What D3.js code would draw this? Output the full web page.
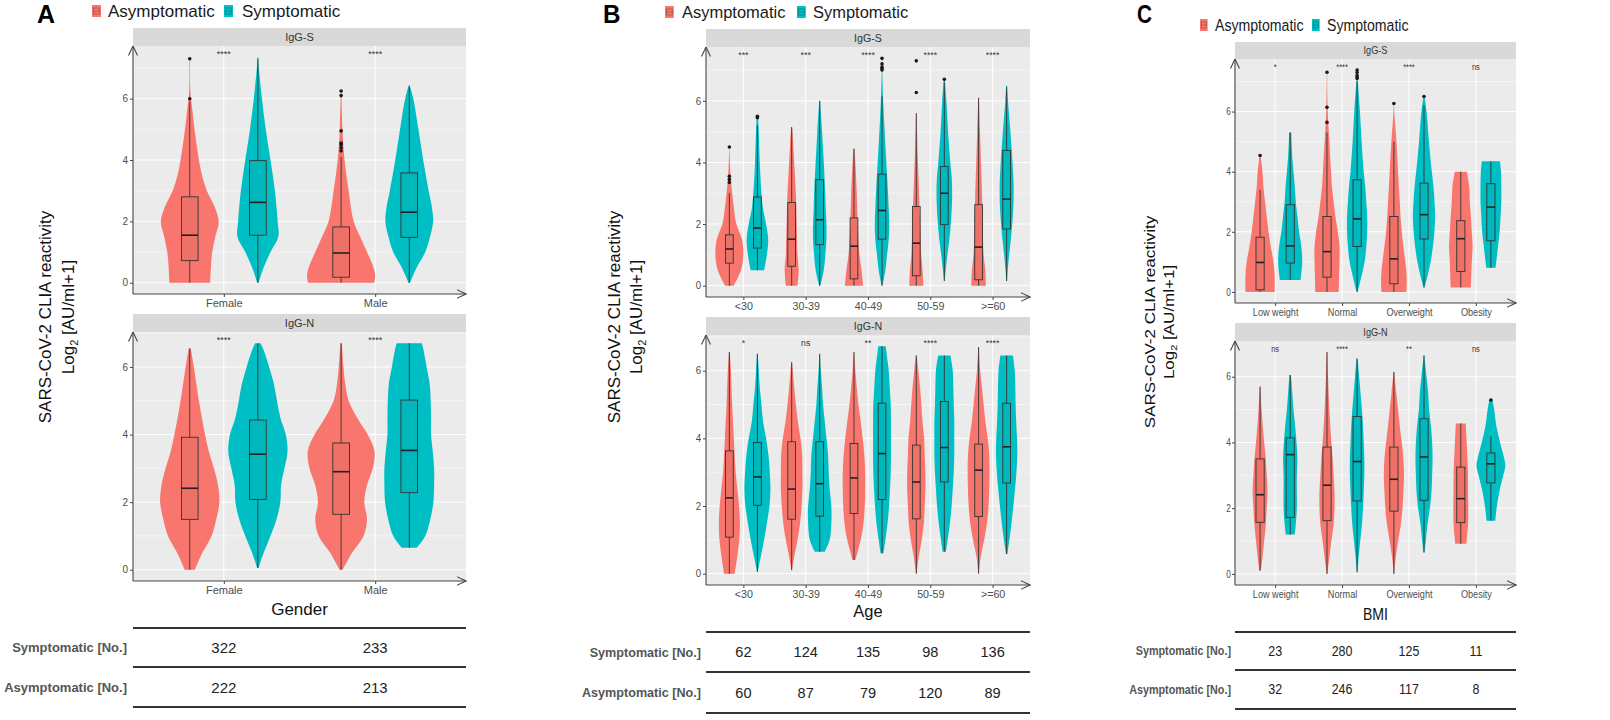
<!DOCTYPE html>
<html>
<head>
<meta charset="utf-8">
<script src="https://cdn.jsdelivr.net/npm/d3@7"></script>
<style>
  body { margin: 0; background: #fff; }
  svg { font-family: "Liberation Sans", Arial, sans-serif; }
</style>
</head>
<body>
<svg id="chart" width="1610" height="720"></svg>
<script>
// Groups and colours
const groups = ['Asymptomatic', 'Symptomatic'];
const groupColors = ['#F8766D', '#00BFC4'];
const facetLabels = ['IgG-S', 'IgG-N'];
const yTicks = [0, 2, 4, 6];
const yMinor = [1, 3, 5, 7];

// Violin row: category, group, whisker low, q1, median, q3, whisker high, outliers, density [value, rel. width]
const vr = (c, g, lo, q1, med, q3, hi, out, dens) => ({ c, g, lo, q1, med, q3, hi, out, dens });

// Gender
const genderCats = ['Female', 'Male'];
const genderSymN = [322, 233];
const genderAsymN = [222, 213];
const genderSigS = ['****', '****'];
const genderSigN = ['****', '****'];
const genderIgGS = [
  vr(0, 0, 0, 0.72, 1.55, 2.8, 5.9, [6.0, 7.3], [[0, .6], [0.5, .62], [1, .66], [1.5, .75], [2, .85], [2.5, .72], [3, .5], [3.5, .36], [4, .27], [5, .14], [5.6, .08], [6.2, .02], [7.3, .01]]),
  vr(0, 1, 0, 1.55, 2.62, 3.98, 7.3, [], [[0, .02], [0.5, .17], [1, .37], [1.5, .6], [2, .58], [3, .5], [4, .37], [5, .23], [6, .12], [7, .03], [7.35, .01]]),
  vr(1, 0, 0, 0.18, 0.97, 1.82, 4.1, [4.3, 4.4, 4.5, 4.55, 4.95, 6.1, 6.25], [[0, .97], [0.25, 1], [0.5, .95], [1, .76], [1.5, .56], [2, .37], [3, .22], [4, .1], [5, .04], [6.25, .01]]),
  vr(1, 1, 0, 1.48, 2.3, 3.58, 6.4, [], [[0, .02], [0.5, .22], [1, .47], [1.5, .61], [2, .7], [2.5, .66], [3, .57], [4, .41], [5, .27], [6, .12], [6.45, .01]])
];
const genderIgGN = [
  vr(0, 0, 0, 1.49, 2.41, 3.92, 6.55, [], [[0, .15], [0.5, .37], [1, .64], [1.5, .78], [2, .87], [2.5, .83], [3, .71], [3.5, .56], [4, .45], [5, .27], [6, .12], [6.55, .03]]),
  vr(0, 1, 0.05, 2.08, 3.42, 4.43, 6.7, [], [[0.05, .02], [0.5, .17], [1, .37], [1.5, .55], [2, .66], [2.5, .68], [3, .78], [3.5, .87], [4, .82], [4.5, .66], [5, .56], [5.5, .47], [6, .33], [6.5, .17], [6.7, .08]]),
  vr(1, 0, 0, 1.64, 2.9, 3.75, 6.7, [], [[0, .05], [0.5, .32], [1, .66], [1.5, .76], [2, .68], [2.5, .76], [3, .93], [3.5, .98], [4, .78], [4.5, .47], [5, .22], [5.5, .12], [6, .07], [6.7, .02]]),
  vr(1, 1, 0.65, 2.28, 3.53, 5.02, 6.7, [], [[0.65, .22], [1, .47], [1.5, .62], [2, .71], [2.5, .73], [3, .73], [3.5, .69], [4, .64], [4.5, .64], [5, .63], [5.5, .6], [6, .51], [6.5, .42], [6.7, .37]])
];

// Age
const ageCats = ['<30', '30-39', '40-49', '50-59', '>=60'];
const ageSymN = [62, 124, 135, 98, 136];
const ageAsymN = [60, 87, 79, 120, 89];
const ageSigS = ['***', '***', '****', '****', '****'];
const ageSigN = ['*', 'ns', '**', '****', '****'];
const ageIgGS = [
  vr(0, 0, 0, 0.73, 1.19, 1.65, 3.0, [3.35, 3.45, 3.55, 4.5], [[0, .3], [0.5, .83], [1, 1], [1.5, .9], [2, .5], [2.5, .33], [3, .2], [3.5, .1], [4, .04], [4.5, .01]]),
  vr(0, 1, 0.5, 1.22, 1.87, 2.88, 5.2, [5.45, 5.5], [[0.5, .48], [1, .68], [1.5, .77], [2, .62], [2.5, .4], [3, .29], [4, .17], [5, .1], [5.5, .05]]),
  vr(1, 0, 0, 0.63, 1.51, 2.7, 5.15, [], [[0, .42], [0.5, .5], [1, .42], [2, .36], [3, .3], [4, .18], [5, .06], [5.15, .02]]),
  vr(1, 1, 0, 1.33, 2.14, 3.44, 6.0, [], [[0, .04], [0.5, .29], [1, .4], [1.5, .48], [2, .48], [2.5, .43], [3, .4], [4, .29], [5, .17], [6, .03]]),
  vr(2, 0, 0, 0.22, 1.28, 2.2, 4.45, [], [[0, .65], [0.5, .54], [1, .39], [2, .27], [3, .2], [4, .1], [4.45, .03]]),
  vr(2, 1, 0, 1.51, 2.44, 3.62, 6.15, [7.0, 7.05, 7.1, 7.2, 7.38], [[0, .03], [0.5, .24], [1, .36], [1.5, .48], [2, .52], [2.5, .48], [3, .43], [4, .31], [5, .19], [6, .08], [7, .02], [7.38, .01]]),
  vr(3, 0, 0, 0.32, 1.38, 2.57, 5.6, [6.27, 7.3], [[0, .5], [0.5, .45], [1, .35], [2, .28], [3, .2], [4, .12], [5, .05], [5.6, .02]]),
  vr(3, 1, 0.15, 1.98, 3.0, 3.87, 6.6, [6.7], [[0.15, .02], [0.5, .1], [1, .22], [1.5, .36], [2, .46], [2.5, .53], [3, .56], [3.5, .53], [4, .43], [5, .27], [6, .15], [6.7, .04]]),
  vr(4, 0, 0, 0.19, 1.25, 2.63, 6.1, [], [[0, .52], [0.5, .48], [1, .36], [2, .29], [3, .24], [4, .17], [5, .1], [6.1, .02]]),
  vr(4, 1, 0.15, 1.84, 2.81, 4.39, 6.45, [], [[0.15, .03], [0.5, .08], [1, .18], [1.5, .3], [2, .4], [2.5, .47], [3, .5], [3.5, .48], [4, .42], [4.5, .35], [5, .27], [5.5, .18], [6, .1], [6.5, .03]])
];
const ageIgGN = [
  vr(0, 0, 0, 1.08, 2.24, 3.63, 6.55, [], [[0, .38], [0.5, .56], [1, .71], [1.5, .75], [2, .69], [2.5, .57], [3, .45], [3.5, .38], [4, .32], [5, .2], [6, .11], [6.55, .03]]),
  vr(0, 1, 0.05, 2.02, 2.86, 3.88, 6.5, [], [[0.05, .02], [0.5, .24], [1, .48], [1.5, .68], [2, .86], [2.5, .93], [3, .88], [3.5, .79], [4, .62], [4.5, .4], [5, .29], [5.5, .17], [6, .1], [6.5, .03]]),
  vr(1, 0, 0.1, 1.61, 2.5, 3.9, 6.25, [], [[0.1, .02], [0.5, .18], [1, .42], [1.5, .6], [2, .71], [2.5, .77], [3, .77], [3.5, .75], [4, .63], [4.5, .44], [5, .3], [5.5, .18], [6, .08], [6.25, .03]]),
  vr(1, 1, 0.65, 1.7, 2.66, 3.9, 6.5, [], [[0.65, .36], [1, .71], [1.5, .83], [2, .83], [2.5, .71], [3, .64], [3.5, .6], [4, .48], [4.5, .36], [5, .24], [5.5, .17], [6, .08], [6.5, .02]]),
  vr(2, 0, 0.4, 1.78, 2.83, 3.85, 6.55, [], [[0.4, .1], [1, .48], [1.5, .68], [2, .77], [2.5, .8], [3, .8], [3.5, .74], [4, .62], [4.5, .48], [5, .32], [5.5, .2], [6, .1], [6.55, .02]]),
  vr(2, 1, 0.6, 2.19, 3.55, 5.04, 6.72, [], [[0.6, .1], [1, .24], [1.5, .4], [2, .5], [2.5, .57], [3, .62], [3.5, .64], [4, .64], [4.5, .64], [5, .62], [5.5, .55], [6, .48], [6.5, .33], [6.72, .27]]),
  vr(3, 0, 0, 1.62, 2.71, 3.8, 6.45, [], [[0, .02], [0.5, .18], [1, .39], [1.5, .54], [2, .6], [2.5, .65], [3, .65], [3.5, .6], [4, .56], [4.5, .44], [5, .36], [5.5, .27], [6, .15], [6.45, .03]]),
  vr(3, 1, 0.65, 2.71, 3.73, 5.09, 6.45, [], [[0.65, .12], [1, .24], [1.5, .4], [2, .52], [2.5, .6], [3, .67], [3.5, .71], [4, .71], [4.5, .71], [5, .67], [5.5, .64], [6, .6], [6.45, .44]]),
  vr(4, 0, 0, 1.69, 3.06, 3.83, 6.7, [], [[0, .02], [0.5, .15], [1, .4], [1.5, .6], [2, .71], [2.5, .76], [3, .78], [3.5, .76], [4, .65], [4.5, .48], [5, .36], [5.5, .24], [6, .12], [6.7, .02]]),
  vr(4, 1, 0.58, 2.68, 3.75, 5.04, 6.45, [], [[0.58, .05], [1, .2], [1.5, .35], [2, .48], [2.5, .6], [3, .7], [3.5, .76], [4, .74], [4.5, .68], [5, .64], [5.5, .62], [6, .58], [6.45, .45]])
];

// BMI
const bmiCats = ['Low weight', 'Normal', 'Overweight', 'Obesity'];
const bmiSymN = [23, 280, 125, 11];
const bmiAsymN = [32, 246, 117, 8];
const bmiSigS = ['*', '****', '****', 'ns'];
const bmiSigN = ['ns', '****', '**', 'ns'];
const bmiIgGS = [
  vr(0, 0, 0, 0.07, 0.98, 1.82, 3.4, [4.54], [[0, .97], [0.5, .97], [1, .89], [1.5, .71], [2, .56], [2.5, .44], [3, .33], [3.5, .22], [4, .16], [4.54, .03]]),
  vr(0, 1, 0.4, 0.96, 1.53, 2.9, 5.3, [], [[0.4, .69], [1, .8], [1.5, .74], [2, .59], [2.5, .48], [3, .37], [3.5, .31], [4, .22], [4.5, .14], [5, .09], [5.3, .07]]),
  vr(1, 0, 0, 0.49, 1.34, 2.51, 5.3, [5.64, 6.14, 7.31], [[0, .78], [0.5, .8], [1, .83], [1.5, .83], [2, .72], [2.5, .56], [3, .44], [3.5, .33], [4, .27], [5, .16], [6, .05], [7.31, .01]]),
  vr(1, 1, 0, 1.51, 2.43, 3.73, 7.0, [7.1, 7.15, 7.2, 7.3, 7.38], [[0, .03], [0.5, .28], [1, .5], [1.5, .61], [2, .67], [2.5, .67], [3, .61], [3.5, .54], [4, .44], [5, .3], [6, .19], [7, .05], [7.38, .01]]),
  vr(2, 0, 0, 0.27, 1.1, 2.51, 5.0, [6.27], [[0, .83], [0.5, .85], [1, .76], [1.5, .63], [2, .52], [2.5, .44], [3, .39], [3.5, .33], [4, .28], [5, .17], [5.8, .05], [6.27, .01]]),
  vr(2, 1, 0.15, 1.76, 2.57, 3.62, 6.2, [6.5], [[0.15, .03], [0.5, .22], [1, .44], [1.5, .59], [2, .69], [2.5, .74], [3, .7], [3.5, .63], [4, .52], [5, .33], [6, .17], [6.5, .03]]),
  vr(3, 0, 0.15, 0.68, 1.77, 2.37, 4.0, [], [[0.15, .67], [1, .73], [1.5, .78], [2, .73], [2.5, .67], [3, .6], [3.5, .56], [4, .4]]),
  vr(3, 1, 0.8, 1.7, 2.82, 3.6, 4.35, [], [[0.8, .31], [1.5, .47], [2, .58], [2.5, .64], [3, .69], [3.5, .69], [4, .67], [4.35, .6]])
];
const bmiIgGN = [
  vr(0, 0, 0.1, 1.57, 2.41, 3.5, 5.7, [], [[0.1, .05], [0.5, .16], [1, .27], [1.5, .38], [2, .44], [2.5, .5], [3, .44], [3.5, .38], [4, .27], [4.5, .18], [5, .1], [5.7, .02]]),
  vr(0, 1, 1.2, 1.72, 3.63, 4.14, 6.05, [], [[1.2, .3], [1.5, .37], [2, .44], [2.5, .44], [3, .44], [3.5, .48], [4, .42], [4.5, .33], [5, .22], [5.5, .14], [6.05, .05]]),
  vr(1, 0, 0, 1.62, 2.7, 3.86, 6.75, [], [[0, .02], [0.5, .16], [1, .29], [1.5, .44], [2, .5], [2.5, .5], [3, .44], [3.5, .38], [4, .29], [5, .16], [6, .07], [6.75, .02]]),
  vr(1, 1, 0.05, 2.22, 3.42, 4.79, 6.55, [], [[0.05, .02], [0.5, .1], [1, .21], [1.5, .32], [2, .39], [2.5, .44], [3, .48], [3.5, .48], [4, .44], [4.5, .39], [5, .32], [5.5, .23], [6, .14], [6.55, .04]]),
  vr(2, 0, 0, 1.91, 2.88, 3.86, 6.15, [], [[0, .02], [0.5, .12], [1, .28], [1.5, .46], [2, .57], [2.5, .63], [3, .67], [3.5, .63], [4, .52], [4.5, .39], [5, .28], [5.5, .16], [6.15, .02]]),
  vr(2, 1, 0.65, 2.24, 3.56, 4.72, 6.65, [], [[0.65, .03], [1, .12], [1.5, .23], [2, .39], [2.5, .5], [3, .54], [3.5, .57], [4, .54], [4.5, .46], [5, .34], [5.5, .28], [6, .17], [6.65, .02]]),
  vr(3, 0, 0.92, 1.56, 2.29, 3.25, 4.58, [], [[0.92, .37], [1.5, .48], [2, .5], [2.5, .48], [3, .48], [3.5, .44], [4, .39], [4.58, .33]]),
  vr(3, 1, 1.62, 2.77, 3.35, 3.68, 4.2, [5.29], [[1.62, .29], [2, .38], [2.5, .56], [3, .82], [3.3, .96], [3.5, .89], [4, .61], [4.5, .36], [5, .22], [5.3, .1]])
];

// Panel layout
const panels = [
  { letter: 'A', cats: genderCats, title: 'Gender', facets: [genderIgGS, genderIgGN], sig: [genderSigS, genderSigN],
    symN: genderSymN, asymN: genderAsymN, x0: 133, x1: 466, sx: 1, letterX: 37,
    legend: [[92, 108], [224, 242]], legendY: 17,
    strips: [[28, 46], [314, 332]], axisY: [294, 581], titleY: 615,
    table: [628, 667, 707], labelX: 127, yTitleX: [51, 74], yTitleY: 317 },
  { letter: 'B', cats: ageCats, title: 'Age', facets: [ageIgGS, ageIgGN], sig: [ageSigS, ageSigN],
    symN: ageSymN, asymN: ageAsymN, x0: 706, x1: 1030, sx: 0.97, letterX: 603,
    legend: [[665, 682], [797, 813]], legendY: 18,
    strips: [[29, 47], [317, 335]], axisY: [297, 585], titleY: 617,
    table: [632, 672, 713], labelX: 701, yTitleX: [620, 642], yTitleY: 317 },
  { letter: 'C', cats: bmiCats, title: 'BMI', facets: [bmiIgGS, bmiIgGN], sig: [bmiSigS, bmiSigN],
    symN: bmiSymN, asymN: bmiAsymN, x0: 1235, x1: 1516, sx: 0.83, letterX: 1137,
    legend: [[1200, 1215], [1312, 1327]], legendY: 31,
    strips: [[42, 59], [323, 341]], axisY: [303, 585], titleY: 620,
    table: [632, 670, 709], labelX: 1231, yTitleX: [1155, 1174], yTitleY: 322 }
];

const svg = d3.select('#chart');

// Open chevron arrow for the axes
svg.append('defs').append('marker')
  .attr('id', 'arrow')
  .attr('viewBox', '0 0 10 10')
  .attr('refX', 9.5).attr('refY', 5)
  .attr('markerWidth', 10).attr('markerHeight', 10)
  .attr('markerUnits', 'userSpaceOnUse')
  .attr('orient', 'auto')
  .append('path')
  .attr('d', 'M0,0.5 L9.5,5 L0,9.5')
  .attr('fill', 'none')
  .attr('stroke', '#444')
  .attr('stroke-width', 1.1);

// Text helper, with horizontal squeeze per panel
function txt(g, x, y, s, o = {}) {
  const t = g.append('text')
    .attr('transform', `translate(${x},${y}) scale(${o.sx ?? 1},1)` + (o.rot ? ` rotate(${o.rot})` : ''))
    .attr('text-anchor', o.anchor || 'middle')
    .attr('font-size', o.size || 10)
    .attr('fill', o.fill || '#333');
  if (o.weight) t.attr('font-weight', o.weight);
  if (o.baseline) t.attr('dominant-baseline', o.baseline);
  t.text(s);
  return t;
}

function drawPanel(P) {
  const g = svg.append('g');
  const sx = P.sx;

  const x = d3.scalePoint().domain(P.cats).range([P.x0, P.x1]).padding(0.6);
  const step = x.step();
  const dodge = d3.scalePoint().domain([0, 1]).range([-0.225 * step, 0.225 * step]);
  const halfW = d3.scaleLinear().domain([0, 1]).range([0, 0.225 * step]);
  const boxW = 0.1 * step + 1.5;

  // Panel letter and legend
  txt(g, P.letterX, 23, P.letter, { sx, anchor: 'start', size: 25, weight: 'bold', fill: '#000' });
  groups.forEach((name, i) => {
    const [kx, tx] = P.legend[i];
    const ky = P.legendY - 12;
    g.append('rect').attr('x', kx).attr('y', ky).attr('width', 8 * sx + 1).attr('height', 12)
      .attr('fill', groupColors[i]);
    g.append('rect').attr('x', kx + 1.5).attr('y', ky + 3).attr('width', 8 * sx - 2).attr('height', 6)
      .attr('fill', 'none').attr('stroke', d3.color(groupColors[i]).darker(1.2)).attr('stroke-width', 0.7);
    g.append('line').attr('x1', kx + 1.5).attr('x2', kx + 8 * sx - 0.5).attr('y1', ky + 6).attr('y2', ky + 6)
      .attr('stroke', d3.color(groupColors[i]).darker(1.2)).attr('stroke-width', 0.7);
    txt(g, tx, P.legendY, name, { sx, anchor: 'start', size: 17, fill: '#1a1a1a' });
  });

  P.facets.forEach((rows, fi) => {
    const [stripTop, top] = P.strips[fi];
    const bottom = P.axisY[fi];
    const maxV = d3.max(rows, (r) => d3.max([r.hi, r.dens[r.dens.length - 1][0], ...r.out]));
    const y = d3.scaleLinear().domain([-0.05 * maxV, maxV * 1.05]).range([bottom, top]);

    // Background and grid
    g.append('rect').attr('x', P.x0).attr('y', top).attr('width', P.x1 - P.x0).attr('height', bottom - top)
      .attr('fill', '#EBEBEB');
    yMinor.filter((t) => y(t) > top).forEach((t) => {
      g.append('line').attr('x1', P.x0).attr('x2', P.x1).attr('y1', y(t)).attr('y2', y(t))
        .attr('stroke', '#fff').attr('stroke-width', 0.5);
    });
    yTicks.forEach((t) => {
      g.append('line').attr('x1', P.x0).attr('x2', P.x1).attr('y1', y(t)).attr('y2', y(t))
        .attr('stroke', '#fff').attr('stroke-width', 1);
    });
    P.cats.forEach((c) => {
      g.append('line').attr('x1', x(c)).attr('x2', x(c)).attr('y1', top).attr('y2', bottom)
        .attr('stroke', '#fff').attr('stroke-width', 1);
    });

    // Violins
    rows.forEach((r) => {
      const cx = x(P.cats[r.c]) + dodge(r.g);
      const area = d3.area()
        .curve(d3.curveCatmullRom.alpha(0.5))
        .y((d) => y(d[0]))
        .x0((d) => cx - halfW(d[1]))
        .x1((d) => cx + halfW(d[1]));
      g.append('path').attr('d', area(r.dens)).attr('fill', groupColors[r.g]);
    });

    // Boxplots
    rows.forEach((r) => {
      const cx = x(P.cats[r.c]) + dodge(r.g);
      const stroke = '#333';
      g.append('line').attr('x1', cx).attr('x2', cx).attr('y1', y(r.lo)).attr('y2', y(r.q1))
        .attr('stroke', stroke).attr('stroke-width', 0.9);
      g.append('line').attr('x1', cx).attr('x2', cx).attr('y1', y(r.q3)).attr('y2', y(r.hi))
        .attr('stroke', stroke).attr('stroke-width', 0.9);
      g.append('rect').attr('x', cx - boxW / 2).attr('y', y(r.q3)).attr('width', boxW).attr('height', y(r.q1) - y(r.q3))
        .attr('fill', 'rgba(0,0,0,0.04)').attr('stroke', stroke).attr('stroke-width', 0.9);
      g.append('line').attr('x1', cx - boxW / 2).attr('x2', cx + boxW / 2).attr('y1', y(r.med)).attr('y2', y(r.med))
        .attr('stroke', '#222').attr('stroke-width', 1.6);
      r.out.forEach((o) => {
        g.append('circle').attr('cx', cx).attr('cy', y(o)).attr('r', 1.8).attr('fill', '#1a1a1a');
      });
    });

    // Significance labels
    P.cats.forEach((c, i) => {
      txt(g, x(c), top + 11, P.sig[fi][i], { sx, size: 9, fill: '#333' });
    });

    // Axes
    const yAxis = g.append('g').attr('transform', `translate(${P.x0},0)`)
      .call(d3.axisLeft(y).tickValues(yTicks).tickSize(3).tickPadding(2));
    yAxis.select('.domain').remove();
    yAxis.selectAll('line').attr('stroke', '#444');
    yAxis.selectAll('text').attr('font-size', 10).attr('fill', '#4D4D4D')
      .attr('font-family', null).attr('transform', `scale(${sx},1)`);

    const xAxis = g.append('g').attr('transform', `translate(0,${bottom})`)
      .call(d3.axisBottom(x).tickSize(3).tickPadding(2));
    xAxis.select('.domain').remove();
    xAxis.selectAll('line').attr('stroke', '#444');
    xAxis.selectAll('text').attr('font-size', 11).attr('fill', '#4D4D4D')
      .attr('font-family', null).attr('transform', `scale(${sx},1)`);

    g.append('path').attr('d', `M${P.x0},${bottom}V${top}`)
      .attr('stroke', '#444').attr('stroke-width', 1.1).attr('fill', 'none').attr('marker-end', 'url(#arrow)');
    g.append('path').attr('d', `M${P.x0},${bottom}H${P.x1}`)
      .attr('stroke', '#444').attr('stroke-width', 1.1).attr('fill', 'none').attr('marker-end', 'url(#arrow)');

    // Strip
    g.append('rect').attr('x', P.x0).attr('y', stripTop).attr('width', P.x1 - P.x0).attr('height', top - stripTop)
      .attr('fill', '#D9D9D9');
    txt(g, (P.x0 + P.x1) / 2, (stripTop + top) / 2, facetLabels[fi], { sx, size: 11, fill: '#333', baseline: 'central' });
  });

  // Axis titles
  txt(g, (P.x0 + P.x1) / 2, P.titleY, P.title, { sx, size: 17, fill: '#111' });
  txt(g, P.yTitleX[0], P.yTitleY, 'SARS-CoV-2 CLIA reactivity', { sx, rot: -90, size: 17, fill: '#111' });
  const logTitle = txt(g, P.yTitleX[1], P.yTitleY, '', { sx, rot: -90, size: 17, fill: '#111' });
  logTitle.append('tspan').text('Log');
  logTitle.append('tspan').text('2').attr('font-size', 11).attr('dy', 4);
  logTitle.append('tspan').text(' [AU/ml+1]').attr('dy', -4);

  // Count table
  P.table.forEach((ty) => {
    g.append('line').attr('x1', P.x0).attr('x2', P.x1).attr('y1', ty).attr('y2', ty)
      .attr('stroke', '#333').attr('stroke-width', 2);
  });
  const rowY = [(P.table[0] + P.table[1]) / 2, (P.table[1] + P.table[2]) / 2];
  txt(g, P.labelX, rowY[0], 'Symptomatic [No.]', { sx, anchor: 'end', size: 13, weight: 'bold', fill: '#555', baseline: 'central' });
  txt(g, P.labelX, rowY[1], 'Asymptomatic [No.]', { sx, anchor: 'end', size: 13, weight: 'bold', fill: '#555', baseline: 'central' });
  P.cats.forEach((c, i) => {
    txt(g, x(c), rowY[0], P.symN[i], { sx, size: 15, fill: '#222', baseline: 'central' });
    txt(g, x(c), rowY[1], P.asymN[i], { sx, size: 15, fill: '#222', baseline: 'central' });
  });
}

panels.forEach(drawPanel);
</script>
</body>
</html>
